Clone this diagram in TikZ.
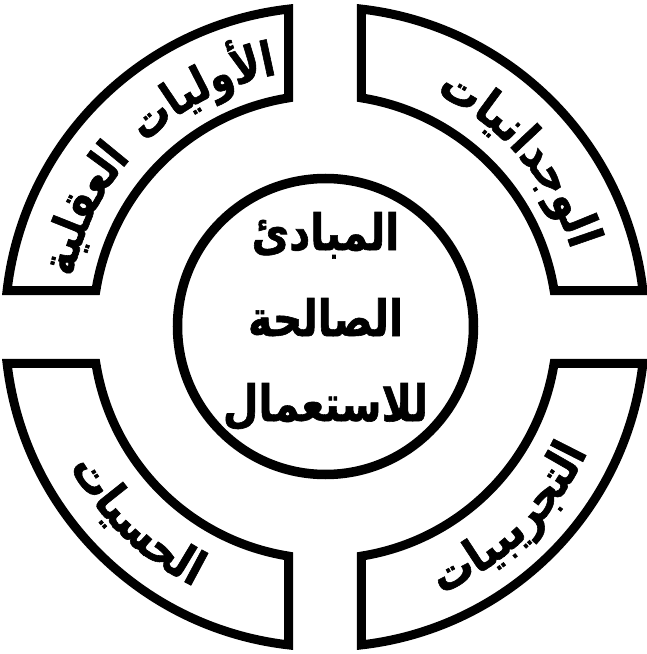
\documentclass[tikz,border=0pt]{standalone}
\usepackage{fontspec}
\usetikzlibrary{decorations.text}
\TeXXeTstate=1
\newfontfamily\arabicfont[Script=Arabic, FakeStretch=0.82, FakeBold=1.2]{DejaVu Sans}
\newfontfamily\pffont[FakeStretch=0.86, FakeBold=1.2]{DejaVu Sans}
\newfontfamily\pffontn[FakeStretch=0.81, FakeBold=1.2]{DejaVu Sans}
\newcommand\pfsize{\pffont\bfseries\fontsize{48}{48}\selectfont}
\newcommand\pfsizen{\pffontn\bfseries\fontsize{48}{48}\selectfont}
\def\Ro{320}
\def\Ri{232}
\def\G{36.5}
\tikzset{
  piece/.style={draw=black, line width=9pt, line join=miter},
  hub/.style={circle, draw=black, line width=9.5pt, minimum size=296pt, inner sep=0pt},
  hubtext/.style={font=\arabicfont\bfseries\fontsize{50}{50}\selectfont, anchor=base, inner sep=0pt},
  arctext/.style={decorate, decoration={text along path, text align=center, text={|\pfsize|#1}}},
  arctextn/.style={decorate, decoration={text along path, text align=center, text={|\pfsizen|#1}}}
}
\begin{document}
\begin{tikzpicture}[x=1pt,y=1pt]
\useasboundingbox (-325,-327) rectangle (321,327);
% ring pieces
\foreach \r in {0,90,180,270}{
  \draw[piece, rotate=\r] ({asin(\G/\Ro)}:\Ro) arc[start angle={asin(\G/\Ro)}, end angle={acos(\G/\Ro)}, radius=\Ro]
    -- ({acos(\G/\Ri)}:\Ri) arc[start angle={acos(\G/\Ri)}, end angle={asin(\G/\Ri)}, radius=\Ri] -- cycle;
}
% hub
\node[hub] (hub) at (0.5,0.5) {};
\node[hubtext] (l1) at (0.5,77) {\beginR المبادئ\endR};
\node[hubtext] (l2) at (0.5,-9) {\beginR الصالحة\endR};
\node[hubtext] (l3) at (0.5,-94) {\beginR للاستعمال\endR};
% curved labels (presentation forms, visual order)
% top-left: العقلية + الأوليات
\path[arctextn={^^^^fe94^^^^fef4^^^^fee0^^^^fed8^^^^fecc^^^^fedf^^^^fe8d}]
  (184:257) arc[start angle=184, end angle=124, radius=257];
\path[arctextn={^^^^fe95^^^^fe8e^^^^fef4^^^^fedf^^^^feed^^^^fef7^^^^fe8d}]
  (147.5:257) arc[start angle=147.5, end angle=87.5, radius=257];
% top-right: الوجدانيات
\path[arctext={^^^^fe95^^^^fe8e^^^^fef4^^^^fee7^^^^fe8d^^^^feaa^^^^fe9f^^^^feee^^^^fedf^^^^fe8d}]
  (81:258) arc[start angle=81, end angle=1, radius=258];
% bottom-left: الحسيات
\path[arctext={^^^^fe95^^^^fe8e^^^^fef4^^^^feb4^^^^fea4^^^^fedf^^^^fe8d}]
  (186:291) arc[start angle=186, end angle=266, radius=291];
% bottom-right: التجريبيات
\path[arctext={^^^^fe95^^^^fe8e^^^^fef4^^^^fe92^^^^fef3^^^^feae^^^^fea0^^^^fe98^^^^fedf^^^^fe8d}]
  (274:291) arc[start angle=274, end angle=354, radius=291];
\end{tikzpicture}
\end{document}
